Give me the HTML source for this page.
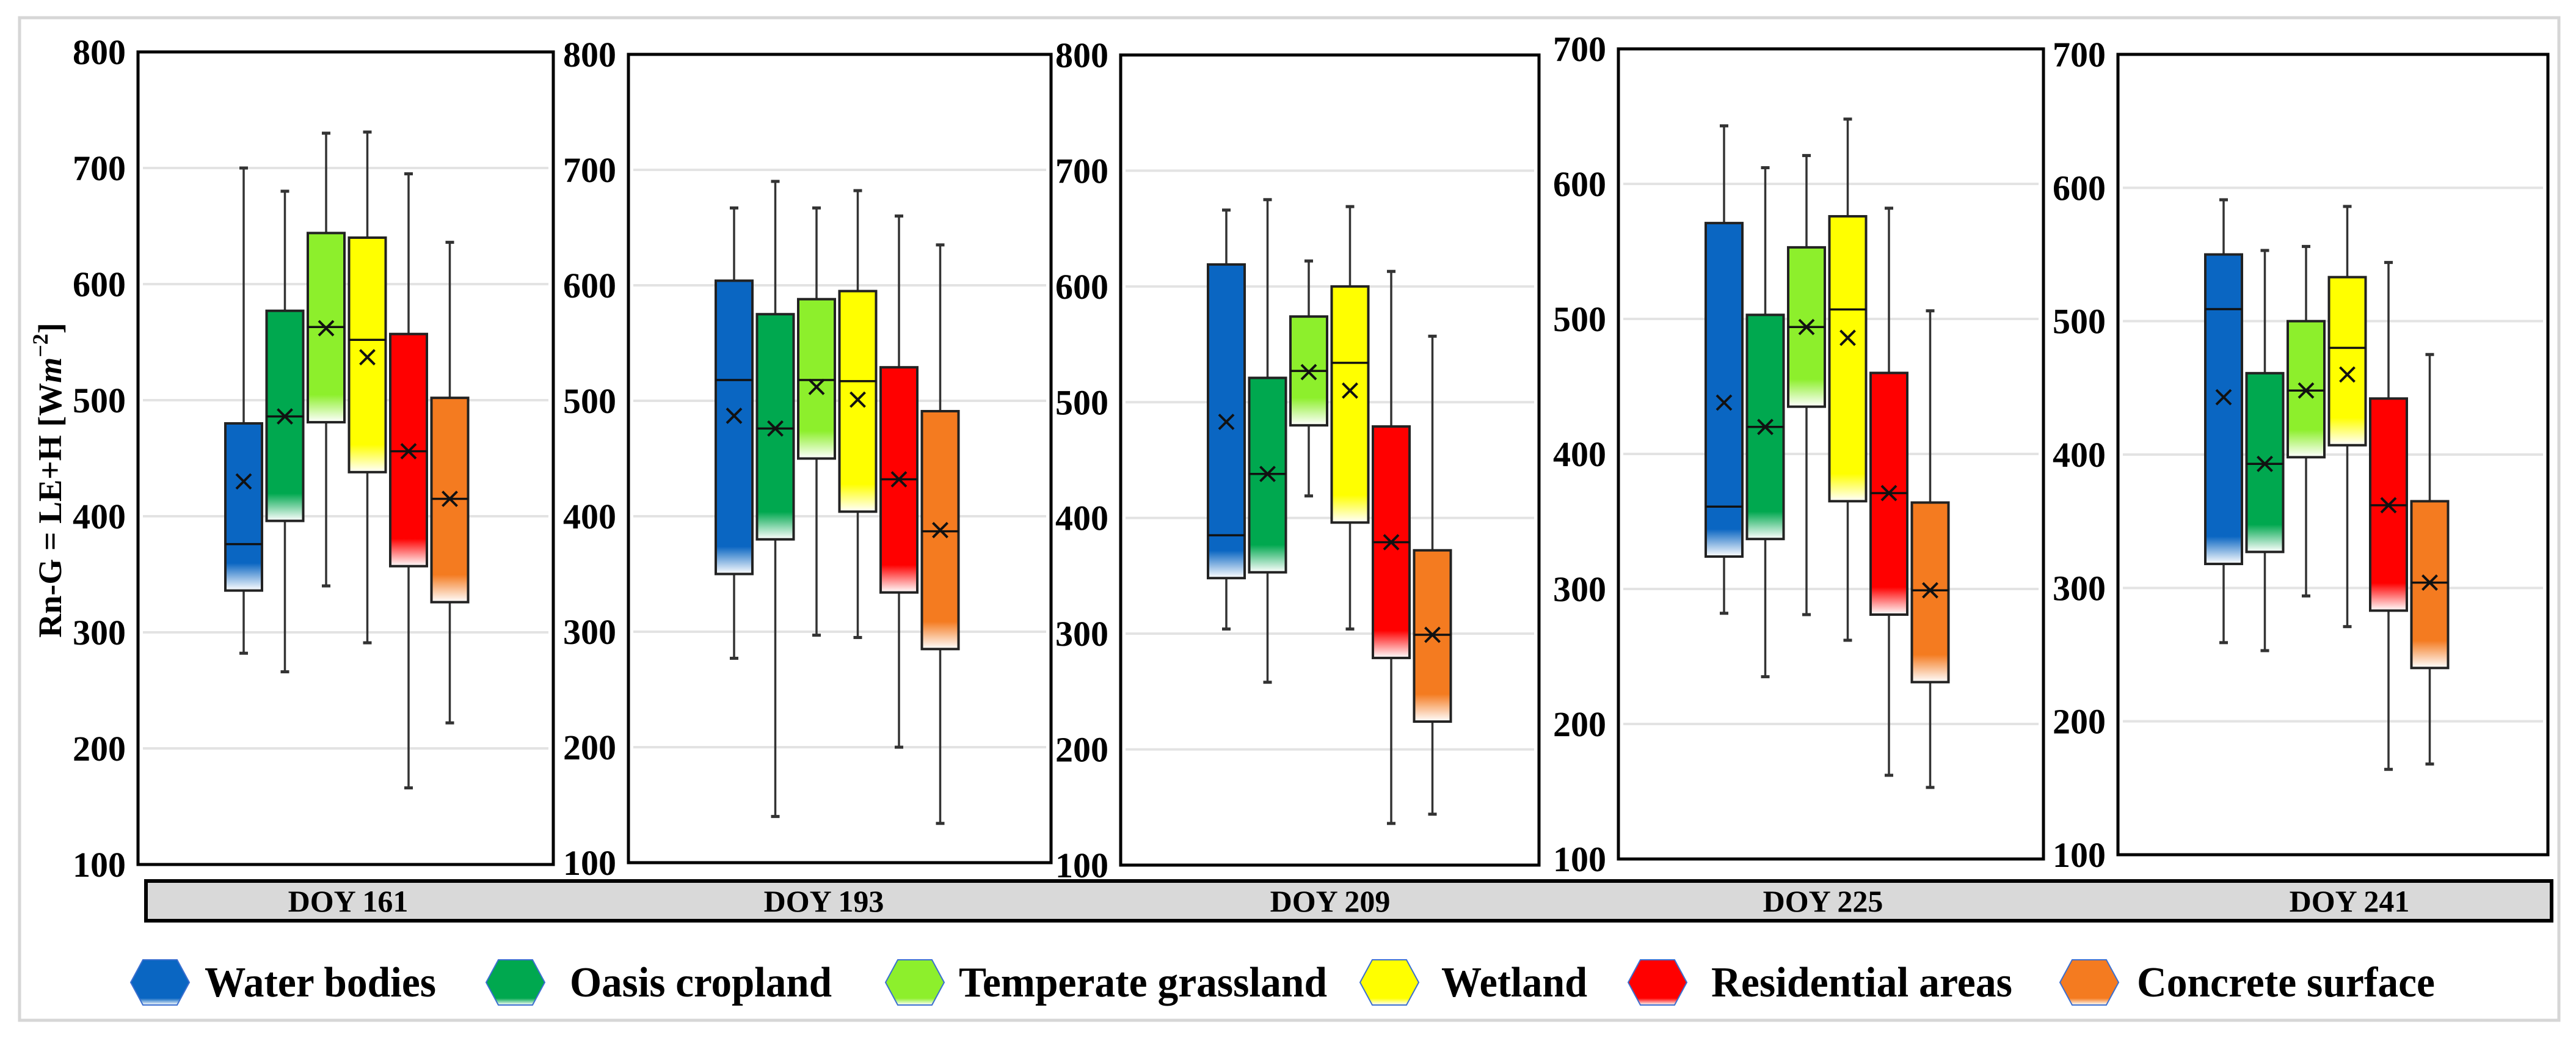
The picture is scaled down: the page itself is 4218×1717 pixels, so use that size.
<!DOCTYPE html>
<html><head><meta charset="utf-8"><style>
html,body{margin:0;padding:0;background:#fff}
svg{display:block}
text{font-family:"Liberation Serif",serif;font-weight:bold;fill:#000}
</style></head><body>
<svg id="chart" width="4218" height="1717" viewBox="0 0 4218 1717" xmlns="http://www.w3.org/2000/svg">
<defs id="defs"></defs>
<rect x="32" y="29" width="4158" height="1641" fill="#fff" stroke="#d6d6d6" stroke-width="5"/>
<text transform="translate(100,786) rotate(-90)" text-anchor="middle" font-size="54">Rn-G = LE+H [W<tspan font-style="italic">m</tspan><tspan font-size="36" dy="-22">−2</tspan><tspan dy="22">]</tspan></text>
<rect x="239" y="1442" width="3939" height="65" fill="#d9d9d9" stroke="#000" stroke-width="6"/>
<g id="panels"></g>
<g id="legend"></g>
</svg>
<script>
const doyLabels = ["DOY 161","DOY 193","DOY 209","DOY 225","DOY 241"];
const classNames = ["Water bodies","Oasis cropland","Temperate grassland","Wetland","Residential areas","Concrete surface"];
const yMaxes = [800,800,800,700,700];
const yTicks800 = [100,200,300,400,500,600,700,800];
const yTicks700 = [100,200,300,400,500,600,700];
// per panel, per class: [whiskerLow, q1, median, q3, whiskerHigh]
const doy161 = [[282,336,376,480,700],[266,396,486,577,680],[340,481,563,644,730],[291,438,552,640,731],[166,357,456,557,695],[222,326,415,502,636]];
const doy193 = [[277,350,518,604,667],[140,380,476,575,690],[297,450,518,588,667],[295,404,517,595,682],[200,334,432,529,660],[134,285,387,491,635]];
const doy209 = [[304,348,385,619,666],[258,353,438,521,675],[419,480,527,574,622],[304,396,534,600,669],[136,279,379,479,613],[144,224,299,372,557]];
const doy225 = [[282,324,361,571,643],[235,337,420,503,612],[281,435,494,553,621],[262,365,507,576,648],[162,281,371,460,582],[153,231,299,364,506]];
const doy241 = [[259,318,509,550,591],[253,327,393,461,553],[294,398,448,500,556],[271,407,480,533,586],[164,283,362,442,544],[168,240,304,365,475]];
const means161 = [430,486,562,537,456,415];
const means193 = [487,476,512,501,432,388];
const means209 = [483,438,526,510,379,299];
const means225 = [438,420,494,486,371,299];
const means241 = [443,393,448,460,362,304];

const boxes = [doy161,doy193,doy209,doy225,doy241];
const means = [means161,means193,means209,means225,means241];
const colors = ["#0a66c2","#00a84f","#8def2c","#ffff00","#ff0000","#f47b20"];
const geom = [[226,85,906,1415],[1029,89,1721,1412],[1835,90,2520,1416],[2650,80,3346,1406],[3468,89,4172,1399]];
const stripCenters = [570,1349,2178,2985,3847];
const NS="http://www.w3.org/2000/svg";
const defs=document.getElementById('defs');
const panelsG=document.getElementById('panels');
function mk(tag,attrs,parent){const e=document.createElementNS(NS,tag);for(const k in attrs)e.setAttribute(k,attrs[k]);if(parent)parent.appendChild(e);return e;}
let gid=0;
function grad(color,frac){
  const g=mk('linearGradient',{id:'g'+(gid),x1:0,y1:0,x2:0,y2:1},defs);
  mk('stop',{offset:0,'stop-color':color},g);
  mk('stop',{offset:Math.max(0,1-frac),'stop-color':color},g);
  mk('stop',{offset:1,'stop-color':'#ffffff'},g);
  return 'url(#g'+(gid++)+')';
}
geom.forEach((gm,p)=>{
  const [x0,y0,x1,y1]=gm;
  const ymax=yMaxes[p], ymin=100;
  const Y=v=>y1-(v-ymin)/(ymax-ymin)*(y1-y0);
  const X=i=>x0+173+i*67.5;
  const pg=mk('g',{},panelsG);
  
  
  const ticks = ymax===800?yTicks800:yTicks700;
  ticks.forEach(t=>{
    if(t>ymin && t<ymax){
      const gl=mk('line',{x1:x0+8,x2:x1-8,y1:Y(t),y2:Y(t),stroke:'#e3e3e3','stroke-width':4},pg);
      
      
    }
    const tl=mk('text',{x:x0-20,y:Y(t)+20,'text-anchor':'end','font-size':58},pg);
    tl.textContent=t;
    
    
  });
  boxes[p].forEach((b,i)=>{
    const cx=X(i), w=60;
    const wl=mk('line',{x1:cx,x2:cx,y1:Y(b[4]),y2:Y(b[0]),stroke:'#333','stroke-width':3.5},pg);
    
    
    [b[0],b[4]].forEach(v=>{
      const c=mk('line',{x1:cx-7,x2:cx+7,y1:Y(v),y2:Y(v),stroke:'#333','stroke-width':5},pg);
      
      
    });
    const h=Y(b[1])-Y(b[3]);
    const r=mk('rect',{x:cx-w/2,y:Y(b[3]),width:w,height:h,fill:grad(colors[i],Math.min(0.5,45/h)),stroke:'#222','stroke-width':4},pg);
    
    
    const md=mk('line',{x1:cx-w/2,x2:cx+w/2,y1:Y(b[2]),y2:Y(b[2]),stroke:'#111','stroke-width':3.5},pg);
    
    
    const my=Y(means[p][i]);
    const mm=mk('path',{d:`M${cx-12} ${my-12}L${cx+12} ${my+12}M${cx+12} ${my-12}L${cx-12} ${my+12}`,stroke:'#111','stroke-width':4,fill:'none'},pg);
    
    
  });
  const fr=mk('rect',{x:x0,y:y0,width:x1-x0,height:y1-y0,fill:'none',stroke:'#000','stroke-width':5},pg);
  
  
  const sl=mk('text',{x:stripCenters[p],y:1492,'text-anchor':'middle','font-size':50},pg);
  sl.textContent=doyLabels[p];
  
  
});
const legG=document.getElementById('legend');
const legHex=[262,844,1498,2275,2714,3421];
const legTextX=[335,933,1570,2360,2802,3499];
const legTextEnd=[714,1362,2173,2599,3295,3987];
classNames.forEach((n,i)=>{
  const cx=legHex[i], cy=1608;
  const g=mk('g',{},legG);
  
  
  const hx=mk('polygon',{points:`${cx-48},${cy} ${cx-28},${cy-37} ${cx+28},${cy-37} ${cx+48},${cy} ${cx+28},${cy+37} ${cx-28},${cy+37}`,fill:grad(colors[i],0.15),stroke:'#3b6fd0','stroke-width':2},g);
  
  
  const t=mk('text',{x:legTextX[i],y:cy+23,'font-size':70,textLength:legTextEnd[i]-legTextX[i],lengthAdjust:'spacingAndGlyphs'},g);
  t.textContent=n;
  
  
});
</script>
</body></html>
